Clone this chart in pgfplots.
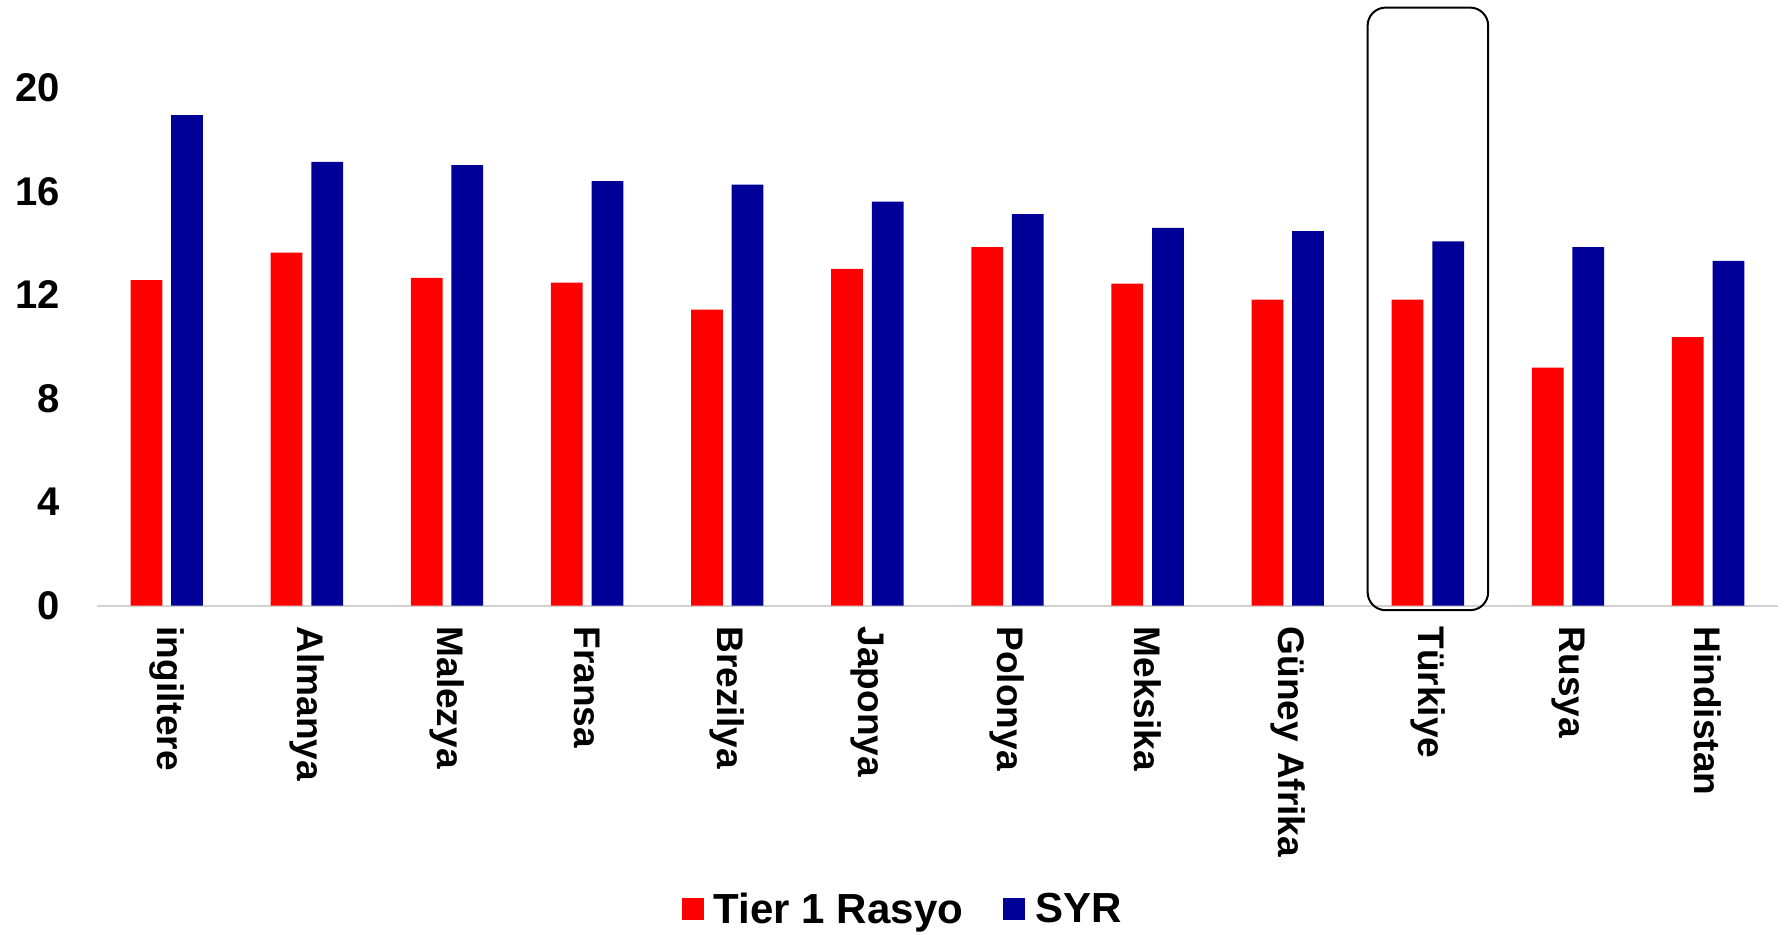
\documentclass[border=0pt]{standalone}
\usepackage{pgfplots}
\pgfplotsset{compat=1.18}
\usepackage{fontspec}
\setmainfont{Liberation Sans}
\definecolor{tierred}{RGB}{255,0,0}
\definecolor{syrblue}{RGB}{0,0,153}
\begin{document}
\begin{tikzpicture}
\begin{axis}[
  name=ax,
  scale only axis,
  width=840pt, height=300pt,
  xmin=-0.5, xmax=11.5,
  ymin=0, ymax=23.2,
  clip=false,
  ybar,
  bar width=0.227,
  axis lines*=left,
  y axis line style={draw=none},
  x axis line style={draw=gray!35, line width=1pt},
  major tick length=0pt,
  ytick={0,4,8,12,16,20},
  /pgf/number format/assume math mode=true,
  yticklabel style={font=\bfseries\fontsize{20}{20}\selectfont, xshift=-15pt},
  xtick={0,...,11},
  xticklabels={ingiltere,Almanya,Malezya,Fransa,Brezilya,Japonya,Polonya,Meksika,Güney Afrika,Türkiye,Rusya,Hindistan},
  xticklabel style={rotate=-90, anchor=west, font=\bfseries\fontsize{18.5}{18.5}\selectfont, xshift=7pt},
  legend style={at={(0.48,-0.506)}, anchor=center, legend columns=2, draw=none,
    font=\bfseries\fontsize{21}{21}\selectfont,
    /tikz/every odd column/.append style={column sep=3pt},
    /tikz/every even column/.append style={column sep=18pt}},
  legend image code/.code={\fill[#1] (0pt,-5.5pt) rectangle (11pt,5.5pt);},
]
\addplot[fill=tierred, draw=none, bar shift=-0.145] coordinates {
  (0,12.57) (1,13.63) (2,12.66) (3,12.48) (4,11.43) (5,13.01)
  (6,13.85) (7,12.44) (8,11.82) (9,11.82) (10,9.19) (11,10.37)};
\addlegendentry{Tier 1 Rasyo}
\addplot[fill=syrblue, draw=none, bar shift=0.145] coordinates {
  (0,18.95) (1,17.14) (2,17.01) (3,16.40) (4,16.26) (5,15.60)
  (6,15.12) (7,14.59) (8,14.46) (9,14.07) (10,13.85) (11,13.32)};
\addlegendentry{SYR}
\draw[black, line width=1pt, rounded corners=9pt]
  (axis cs:8.57,-0.18) rectangle (axis cs:9.43,23.1);
\end{axis}
\pgfresetboundingbox
\path[use as bounding box] ([shift={(-48.3pt,-164.3pt)}]ax.south west) rectangle ([shift={(3.4pt,2.5pt)}]ax.north east);
\end{tikzpicture}
\end{document}
